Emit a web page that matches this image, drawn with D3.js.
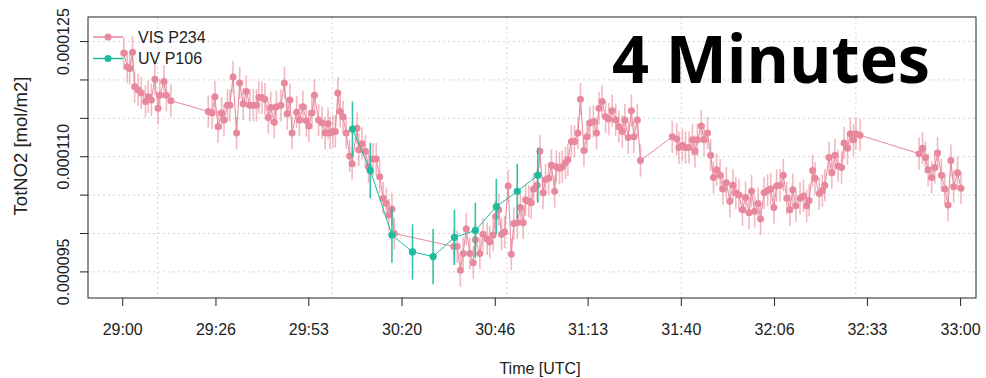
<!DOCTYPE html>
<html>
<head>
<meta charset="utf-8">
<script src="https://cdn.jsdelivr.net/npm/d3@7"></script>
<style>
  html, body { margin: 0; padding: 0; background: #fff; }
  svg { display: block; }
</style>
</head>
<body>
<div id="chart"></div>
<script>
// time is seconds after 29:00, values are in 1e-6 mol/m2
const visTime = [
  0.3, 1.3, 2.0, 2.8, 3.4, 4.4, 5.3, 6.5, 7.3, 8.2, 9.2, 10.1, 10.6, 11.8, 12.5, 13.8,
  24.5, 25.6, 26.4, 27.3, 28.3, 29.0, 30.0, 30.7, 31.6, 32.6, 33.5, 34.5, 35.4, 36.4, 37.4, 38.3,
  39.0, 39.9, 40.7, 41.7, 42.4, 43.4, 44.0, 45.3, 46.3, 47.1, 47.9, 48.5, 49.8, 50.6, 51.6, 52.6,
  53.3, 54.2, 54.9, 56.1, 57.1, 58.0, 58.8, 59.4, 60.2, 60.9, 61.6, 62.3, 63.1, 64.0, 65.0, 65.7,
  67.1, 67.6, 68.5, 69.5, 70.4, 71.7, 72.6, 73.6, 74.6, 75.5, 76.2, 77.1, 77.8,
  94.8, 95.8, 96.7, 97.5, 98.4, 99.4, 100.4, 101.0, 102.3, 103.2, 104.4, 105.1, 106.1, 106.8, 107.7, 108.5,
  109.4, 110.4, 111.3, 112.0, 113.0, 113.9, 114.7, 115.4, 116.3, 117.0, 117.7, 118.7, 119.5, 120.4, 121.1, 122.0,
  122.8, 123.7, 124.2, 125.1, 125.9, 126.8, 127.5, 128.5, 129.4, 130.4, 131.1, 132.1, 133.0, 133.8, 134.8, 135.7,
  136.4, 137.3, 138.3, 139.2, 140.2, 141.2, 142.1, 143.1, 143.8, 144.8, 145.7, 146.4, 147.4, 148.3,
  157.4, 158.7, 159.3, 160.3, 161.2, 162.2, 163.2, 163.9, 164.6, 165.7, 166.5, 167.5, 168.4, 169.2, 170.1, 171.1,
  171.9, 172.9, 173.9, 174.8, 175.6, 176.5, 177.5, 178.4, 179.4, 180.1, 181.0, 182.0, 182.7, 183.7, 184.7, 185.6,
  186.5, 187.3, 188.3, 189.2, 190.2, 191.1, 191.9, 192.8, 194.0, 195.0, 195.9, 196.6, 197.6, 198.3, 199.5, 200.4,
  201.1, 202.3, 203.1, 204.0, 204.9, 205.9, 206.6, 207.6, 208.4, 209.3, 210.0, 211.2,
  228.1, 229.1, 229.9, 230.7, 231.7, 232.6, 233.4, 234.5, 235.5, 236.4, 237.2, 238.0, 239.1, 240.1
];
const visValue = [
  123.5, 121.7, 121.5, 123.6, 119.1, 118.7, 118.3, 117.2, 117.8, 117.4, 120.1, 116.3, 118.0, 119.8, 118.0, 117.3,
  115.9, 115.7, 117.8, 113.9, 115.7, 114.8, 116.7, 116.7, 120.4, 113.1, 119.6, 116.9, 118.5, 116.7, 116.7, 116.7,
  117.7, 117.7, 117.5, 115.1, 116.4, 114.5, 116.5, 116.7, 119.6, 115.6, 117.4, 113.1, 115.8, 114.8, 116.5, 114.7,
  114.0, 115.7, 118.0, 114.8, 114.4, 113.1, 114.3, 113.1, 113.3, 113.3, 118.3, 115.9, 115.2, 113.1, 110.1, 109.1,
  113.7, 110.9, 111.7, 110.7, 108.7, 109.7, 109.7, 107.4, 104.6, 103.9, 102.4, 103.2, 100.0,
  98.3, 98.3, 95.2, 97.4, 100.6, 97.4, 96.2, 99.2, 97.4, 99.9, 99.3, 98.9, 99.8, 102.2, 103.1, 99.9,
  100.2, 106.2, 97.3, 101.3, 101.4, 103.4, 101.4, 104.4, 104.2, 104.0, 105.8, 106.3, 110.7, 105.3, 107.0, 107.2,
  108.9, 105.5, 108.7, 108.5, 108.7, 109.2, 109.6, 112.0, 112.0, 113.1, 117.5, 110.8, 112.6, 114.4, 114.6, 113.1,
  116.3, 117.2, 115.2, 114.9, 116.0, 114.8, 113.9, 113.3, 114.8, 112.5, 116.0, 112.6, 114.8, 109.5,
  112.6, 112.3, 111.2, 111.5, 111.2, 111.2, 112.2, 110.7, 112.2, 114.0, 112.2, 113.1, 110.2, 107.3, 108.3, 107.6,
  105.8, 106.6, 104.2, 106.3, 105.3, 105.0, 103.1, 104.7, 102.7, 105.5, 102.9, 103.9, 101.9, 105.3, 105.6, 105.8,
  103.4, 106.2, 106.3, 107.6, 104.6, 103.1, 105.7, 103.6, 104.6, 104.9, 103.6, 104.3, 108.2, 107.2, 105.2, 105.6,
  106.3, 109.9, 107.9, 110.2, 108.8, 108.6, 111.8, 111.1, 113.0, 112.2, 113.0, 112.8,
  110.4, 111.1, 109.9, 108.3, 107.3, 108.6, 110.5, 107.6, 105.8, 103.7, 109.5, 106.1, 107.9, 105.9
];
const visError = 2.1;

const uvTime = [65.8, 70.9, 77.1, 83.0, 88.9, 95.0, 101.0, 107.0, 113.0, 118.9];
const uvValue = [113.6, 108.2, 99.8, 97.6, 97.0, 99.5, 100.4, 103.5, 105.5, 107.6];
const uvError = 3.6;

const xTicks = [0, 26.7, 53.3, 80, 106.7, 133.3, 160, 186.7, 213.3, 240];
const xTickLabels = ['29:00', '29:26', '29:53', '30:20', '30:46', '31:13', '31:40', '32:06', '32:33', '33:00'];
const xGrid = [10, 60, 110, 160, 210];
const yTicks = [95, 100, 105, 110, 115, 120, 125];
const yLabelled = [95, 110, 125];

const seriesNames = ['VIS P234', 'UV P106'];
const seriesColors = ['#e8889c', '#1dbc9f'];

function TimeSeriesChart(containerId, {
  width = 986,
  height = 378,
  marginLeft = 88,
  marginTop = 17,
  plotRight = 976,
  plotBottom = 298,
  xDomain = [-9.95, 244.4],
  yDomain = [91.6, 128.2],
  font = 'Liberation Sans, Arial, sans-serif',
} = {}) {
  const x = d3.scaleLinear().domain(xDomain).range([marginLeft, plotRight]);
  const y = d3.scaleLinear().domain(yDomain).range([plotBottom, marginTop]);

  const svg = d3.select(`#${containerId}`)
    .append('svg')
    .attr('width', width)
    .attr('height', height)
    .attr('viewBox', [0, 0, width, height]);

  // dotted grid
  const grid = svg.append('g')
    .attr('stroke', '#d3d3d3')
    .attr('stroke-width', 1)
    .attr('stroke-dasharray', '2,3');
  grid.selectAll('line.h')
    .data(yTicks)
    .join('line')
    .attr('class', 'h')
    .attr('x1', marginLeft).attr('x2', plotRight)
    .attr('y1', (d) => y(d)).attr('y2', (d) => y(d));
  grid.selectAll('line.v')
    .data(xGrid)
    .join('line')
    .attr('class', 'v')
    .attr('x1', (d) => x(d)).attr('x2', (d) => x(d))
    .attr('y1', marginTop).attr('y2', plotBottom);

  const plot = svg.append('g');

  function drawSeries(times, values, err, color, barOpacity, r) {
    const I = d3.range(times.length);
    plot.append('g')
      .attr('stroke', color)
      .attr('stroke-opacity', barOpacity)
      .attr('stroke-width', 1.6)
      .selectAll('line')
      .data(I)
      .join('line')
      .attr('x1', (i) => x(times[i])).attr('x2', (i) => x(times[i]))
      .attr('y1', (i) => y(values[i] - err)).attr('y2', (i) => y(values[i] + err));
    plot.append('path')
      .attr('fill', 'none')
      .attr('stroke', color)
      .attr('stroke-width', 1)
      .attr('d', d3.line().x((i) => x(times[i])).y((i) => y(values[i]))(I));
    plot.append('g')
      .attr('fill', color)
      .selectAll('circle')
      .data(I)
      .join('circle')
      .attr('cx', (i) => x(times[i]))
      .attr('cy', (i) => y(values[i]))
      .attr('r', r);
  }

  drawSeries(visTime, visValue, visError, seriesColors[0], 0.6, 3.5);
  drawSeries(uvTime, uvValue, uvError, seriesColors[1], 0.9, 3.6);

  // box
  svg.append('rect')
    .attr('x', marginLeft).attr('y', marginTop)
    .attr('width', plotRight - marginLeft).attr('height', plotBottom - marginTop)
    .attr('fill', 'none').attr('stroke', '#222').attr('stroke-width', 1);

  // x axis
  const xAxis = svg.append('g')
    .attr('font-family', font)
    .attr('font-size', 16)
    .attr('fill', '#222');
  xAxis.selectAll('line')
    .data(xTicks)
    .join('line')
    .attr('x1', (d) => x(d)).attr('x2', (d) => x(d))
    .attr('y1', plotBottom).attr('y2', plotBottom + 8)
    .attr('stroke', '#222');
  xAxis.selectAll('text')
    .data(xTicks)
    .join('text')
    .attr('x', (d) => x(d))
    .attr('y', 335)
    .attr('text-anchor', 'middle')
    .text((d, i) => xTickLabels[i]);

  // y axis
  const yAxis = svg.append('g')
    .attr('font-family', font)
    .attr('font-size', 16)
    .attr('fill', '#222');
  yAxis.selectAll('line')
    .data(yTicks)
    .join('line')
    .attr('x1', marginLeft - 8).attr('x2', marginLeft)
    .attr('y1', (d) => y(d)).attr('y2', (d) => y(d))
    .attr('stroke', '#222');
  yAxis.selectAll('text')
    .data(yLabelled)
    .join('text')
    .attr('transform', (d) => `translate(69,${y(d)}) rotate(-90)`)
    .attr('text-anchor', 'middle')
    .text((d) => d3.format('.6f')(d * 1e-6));

  // axis titles
  svg.append('text')
    .attr('x', 540).attr('y', 374)
    .attr('text-anchor', 'middle')
    .attr('font-family', font).attr('font-size', 16).attr('fill', '#222')
    .text('Time [UTC]');
  svg.append('text')
    .attr('transform', 'translate(27,146) rotate(-90)')
    .attr('text-anchor', 'middle')
    .attr('font-family', font).attr('font-size', 18.5).attr('fill', '#222')
    .text('TotNO2 [mol/m2]');

  // legend
  const legend = svg.append('g')
    .attr('font-family', font)
    .attr('font-size', 16)
    .selectAll('g')
    .data(seriesNames)
    .join('g')
    .attr('transform', (d, i) => `translate(0,${37 + i * 21.5})`);
  legend.append('line')
    .attr('x1', 93).attr('x2', 123).attr('y1', 0).attr('y2', 0)
    .attr('stroke', (d, i) => seriesColors[i]).attr('stroke-width', 1.5);
  legend.append('circle')
    .attr('cx', 108).attr('cy', 0).attr('r', 3.5)
    .attr('fill', (d, i) => seriesColors[i]);
  legend.append('text')
    .attr('x', 138).attr('y', 0).attr('dy', '0.35em')
    .attr('fill', '#222')
    .text((d) => d);

  // big annotation
  svg.append('text')
    .attr('x', 612).attr('y', 83)
    .attr('font-family', 'Open Sans, sans-serif')
    .attr('font-weight', 700)
    .attr('font-size', 67)
    .attr('textLength', 318)
    .attr('lengthAdjust', 'spacingAndGlyphs')
    .attr('fill', '#000')
    .text('4 Minutes');
}

TimeSeriesChart('chart');
</script>
</body>
</html>
